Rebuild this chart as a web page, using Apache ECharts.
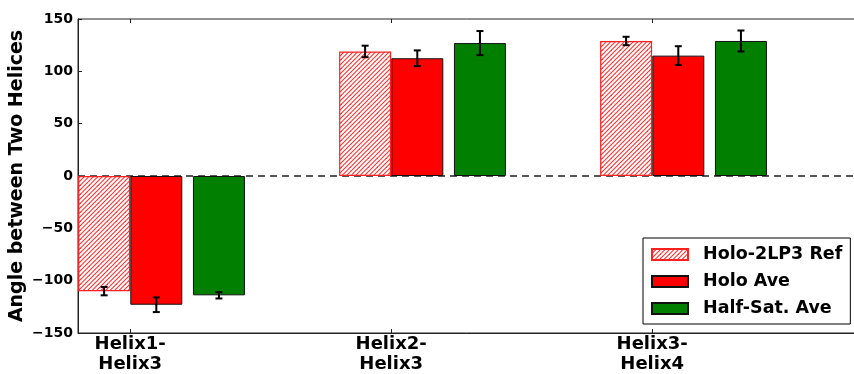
<!DOCTYPE html>
<html><head><meta charset="utf-8">
<script src="https://cdn.jsdelivr.net/npm/echarts@6/dist/echarts.min.js"></script>
<style>html,body{margin:0;padding:0;background:#fff}#c{width:854px;height:374px}</style>
</head><body><div id="c"></div><script>
const categories = ['Helix1-\nHelix3', 'Helix2-\nHelix3', 'Helix3-\nHelix4'];
const seriesNames = ['Holo-2LP3 Ref', 'Holo Ave', 'Half-Sat. Ave'];
const refValues = [-110, 119, 129];
const refErrors = [4, 5.5, 4];
const holoValues = [-123, 112.5, 115];
const holoErrors = [7, 7.5, 9];
const halfValues = [-114, 127, 129];
const halfErrors = [3, 11.5, 10];
const yMin = -150, yMax = 150, yStep = 50;

const FONT = 'DejaVu Sans';
const offsets = [-0.1, 0.1, 0.34];
const catIdx = categories.map((_, i) => i);

// hatch pattern
const pc = document.createElement('canvas');
pc.width = 9; pc.height = 9;
const g = pc.getContext('2d');
g.fillStyle = '#fff'; g.fillRect(0, 0, 9, 9);
g.strokeStyle = '#ff3030'; g.lineWidth = 1.1;
for (let c = -4.5; c <= 22.5; c += 4.5) {
  g.beginPath(); g.moveTo(-1, c + 1); g.lineTo(c + 1, -1); g.stroke();
}

function barData(vals, k) { return vals.map((v, i) => [catIdx[i] + offsets[k], v]); }
function errData(vals, errs, k) { return vals.map((v, i) => [catIdx[i] + offsets[k], v - errs[i], v + errs[i]]); }

function errSeries(vals, errs, k) {
  return {
    type: 'custom', z: 5, silent: true,
    data: errData(vals, errs, k),
    encode: { x: 0, y: [1, 2] },
    renderItem: function (params, api) {
      const x = api.value(0);
      const lo = api.coord([x, api.value(1)]);
      const hi = api.coord([x, api.value(2)]);
      const w = 3.5;
      const st = { stroke: '#000', lineWidth: 2 };
      return { type: 'group', children: [
        { type: 'line', shape: { x1: lo[0], y1: lo[1], x2: hi[0], y2: hi[1] }, style: st },
        { type: 'line', shape: { x1: lo[0] - w, y1: lo[1], x2: lo[0] + w, y2: lo[1] }, style: st },
        { type: 'line', shape: { x1: hi[0] - w, y1: hi[1], x2: hi[0] + w, y2: hi[1] }, style: st }
      ]};
    }
  };
}

const chart = echarts.init(document.getElementById('c'), null, { renderer: 'canvas' });
const labelStyle = { fontFamily: FONT, fontWeight: 'bold', color: '#000' };
chart.setOption({
  animation: false,
  backgroundColor: '#fff',
  grid: { left: 78, right: -7, top: 19, bottom: 41, show: true, borderColor: '#222', borderWidth: 1,
          containLabel: false, outerBoundsMode: 'none' },
  legend: {
    data: seriesNames,
    orient: 'vertical', left: 643, top: 238,
    padding: [7, 8, 6, 8],
    itemWidth: 36, itemHeight: 11, itemGap: 8,
    icon: 'rect',
    borderColor: '#000', borderWidth: 1, backgroundColor: '#fff',
    textStyle: Object.assign({ fontSize: 17.5, padding: [0, 0, 0, 10], lineHeight: 19 }, labelStyle)
  },
  xAxis: [{
    type: 'value', min: -0.2, max: 2.8,
    splitLine: { show: false },
    axisLine: { show: true, onZero: false, lineStyle: { color: '#222', width: 1 } },
    axisTick: { show: true, inside: true, length: 4, customValues: catIdx, lineStyle: { color: '#222' } },
    axisLabel: Object.assign({ customValues: catIdx, fontSize: 18, lineHeight: 20, margin: 1,
      formatter: v => categories[Math.round(v)] }, labelStyle)
  }, {
    type: 'value', min: -0.2, max: 2.8, position: 'top',
    splitLine: { show: false }, axisLine: { show: false, onZero: false },
    axisTick: { show: true, inside: true, length: 4, customValues: catIdx, lineStyle: { color: '#222' } },
    axisLabel: { show: false }
  }],
  yAxis: {
    type: 'value', min: yMin, max: yMax, interval: yStep,
    name: 'Angle between Two Helices', nameLocation: 'middle', nameGap: 51, nameMoveOverlap: false,
    nameTextStyle: Object.assign({ fontSize: 19 }, labelStyle),
    splitLine: { show: false },
    axisLine: { show: true, onZero: false, lineStyle: { color: '#222', width: 1 } },
    axisTick: { show: true, inside: true, length: 4, lineStyle: { color: '#222' } },
    axisLabel: Object.assign({ fontSize: 14, margin: 5,
      formatter: v => (v < 0 ? '\u2212' + Math.abs(v) : String(v)) }, labelStyle)
  },
  series: [
    {
      name: seriesNames[0], type: 'bar', barWidth: 52, barGap: '-100%', z: 2,
      data: barData(refValues, 0),
      itemStyle: { color: { image: pc, repeat: 'repeat' }, borderColor: '#ff2020', borderWidth: 1.2 },
      markLine: {
        silent: true, symbol: 'none', z: 1,
        label: { show: false },
        lineStyle: { color: '#222', type: [7, 5], width: 1.5 },
        data: [{ yAxis: 0 }]
      }
    },
    {
      name: seriesNames[1], type: 'bar', barWidth: 52, barGap: '-100%', z: 2,
      data: barData(holoValues, 1),
      itemStyle: { color: '#ff0000', borderColor: '#111', borderWidth: 1 }
    },
    {
      name: seriesNames[2], type: 'bar', barWidth: 52, barGap: '-100%', z: 2,
      data: barData(halfValues, 2),
      itemStyle: { color: '#007f00', borderColor: '#111', borderWidth: 1 }
    },
    errSeries(refValues, refErrors, 0),
    errSeries(holoValues, holoErrors, 1),
    errSeries(halfValues, halfErrors, 2)
  ]
});
</script></body></html>
